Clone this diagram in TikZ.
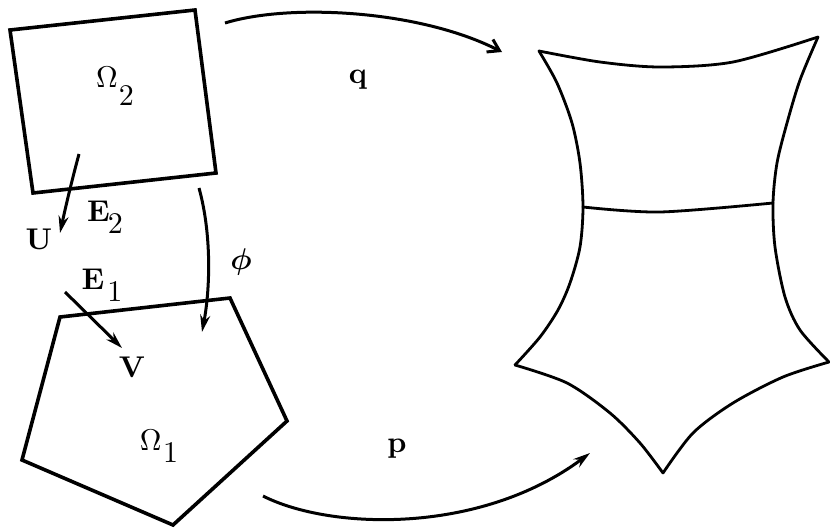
\documentclass[tikz,border=0pt]{standalone}
\usepackage{bm}
\usepackage{graphicx}
\usetikzlibrary{arrows.meta}
\newcommand{\lab}[1]{\scalebox{3.0}{#1}}
\begin{document}
\begin{tikzpicture}[x=1pt,y=-1pt,
  shapeline/.style={line width=3.6pt,line join=miter},
  surfline/.style={line width=2.8pt,line cap=round,line join=round},
  arr/.style={line width=3pt,-{Stealth[length=17pt,width=10pt]}},
  barb/.style={line width=3pt,-{Straight Barb[length=11pt,width=14pt,line width=3pt]}},
  lbl/.style={font=\bfseries,inner sep=0pt}]
\useasboundingbox (0,0) rectangle (830,528);
% Omega_2 square
\coordinate (s1) at (10,30); \coordinate (s2) at (195,10);
\coordinate (s3) at (216,173); \coordinate (s4) at (33,193);
\draw[shapeline] (s1) -- (s2) -- (s3) -- (s4) -- cycle;
% Omega_1 pentagon
\coordinate (p1) at (60,317); \coordinate (p2) at (230,298);
\coordinate (p3) at (287,421); \coordinate (p4) at (173,525);
\coordinate (p5) at (22,460);
\draw[shapeline] (p1) -- (p2) -- (p3) -- (p4) -- (p5) -- cycle;
% surface
\draw[surfline] plot[smooth] coordinates {(539,51) (600,62) (660,67) (733,62) (818,37)};
\draw[surfline] plot[smooth] coordinates {(539,51) (557,83) (572,123) (580,163) (583,207) (580,247) (570,283) (558,310) (540,337) (515,365)};
\draw[surfline] plot[smooth] coordinates {(818,37) (800,80) (787,123) (777,163) (773,203) (775,247) (785,297) (800,330) (829,362)};
\draw[surfline] plot[smooth] coordinates {(583,207) (660,212) (773,203)};
\draw[surfline] plot[smooth] coordinates {(515,365) (567,383) (610,413) (640,443) (663,473)};
\draw[surfline] plot[smooth] coordinates {(829,362) (783,377) (733,403) (693,433) (663,473)};
% labels
\node[lbl] (om2) at (115,86) {\lab{$\Omega$\kern0.4pt\raisebox{-6pt}{\mdseries 2}}};
\node[lbl] (om1) at (159,446) {\lab{$\Omega$\kern0.6pt\raisebox{-4pt}{\mdseries 1}}};
\node[lbl] (e2) at (105,217) {\lab{E\kern-0.6pt\raisebox{-4pt}{\mdseries 2}}};
\node[lbl] (e1) at (102,285) {\lab{E\kern1pt\raisebox{-4pt}{\mdseries 1}}};
\node[lbl] (u) at (39,239) {\lab{U}};
\node[lbl] (v) at (132,367) {\lab{V}};
\node[lbl] (q) at (358,80) {\lab{q}};
\node[lbl] (p) at (397,449) {\lab{p}};
\node[lbl] (phi) at (241,262) {\lab{$\bm{\phi}$}};
% arrows
\coordinate (u0) at (79,154); \coordinate (u1) at (60,233);
\draw[arr] (u0) .. controls (72,180) and (66,205) .. (u1);
\coordinate (v0) at (65,292); \coordinate (v1) at (122,348);
\draw[arr] (v0) -- (v1);
\coordinate (f0) at (199,188); \coordinate (f1) at (202,332);
\draw[arr] (f0) .. controls (212,235) and (210,290) .. (f1);
\coordinate (q0) at (225,23); \coordinate (q1) at (502,52);
\draw[barb] (q0) .. controls (290,3) and (420,10) .. (q1);
\coordinate (r0) at (263,496); \coordinate (r1) at (590,453);
\draw[arr] (r0) .. controls (330,530) and (480,535) .. (r1);
\end{tikzpicture}
\end{document}
